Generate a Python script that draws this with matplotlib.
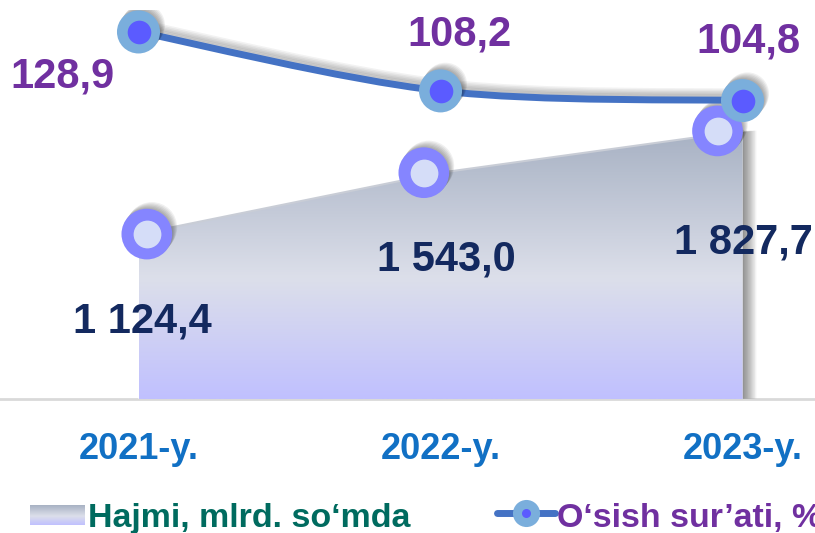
import numpy as np
import matplotlib.pyplot as plt
import matplotlib.patheffects as pe
import matplotlib.transforms as mtransforms
from matplotlib.path import Path
from matplotlib.patches import PathPatch
from matplotlib.lines import Line2D
from matplotlib.colors import LinearSegmentedColormap

plt.rcParams['font.family'] = ['Liberation Sans', 'DejaVu Sans']

# data
years = ['2021-y.', '2022-y.', '2023-y.']
volume = [1124.4, 1543.0, 1827.7]          # Hajmi, mlrd. so'mda
growth = [128.9, 108.2, 104.8]             # O'sish sur'ati, %
volume_labels = ['1 124,4', '1 543,0', '1 827,7']
growth_labels = ['128,9', '108,2', '104,8']

purple = '#7030a0'
navy = '#13295f'
line_blue = '#4472c4'

fig = plt.figure(figsize=(8.15, 5.33), dpi=100)
ax = fig.add_axes([0, 0.2514, 1, 0.7298])
ax.set_xlim(-0.4586, 2.240)
ax.set_ylim(0, 2652)
for s in ax.spines.values():
    s.set_visible(False)
ax.set_yticks([])
x = np.arange(len(years))
ax.set_xticks(x)
ax.set_xticklabels(years, fontsize=26, fontweight='bold', color='#1170c4')
ax.tick_params(axis='x', length=0, pad=24)

ax.axhline(0, color='#d9d9d9', lw=2, zorder=1, clip_on=False)

# area with gradient fill and soft shadow on the right
area_cmap = LinearSegmentedColormap.from_list(
    'area', [(0, '#a7b1c3'), (0.55, '#dcdfea'), (1, '#c0c0ff')])
shadow = [pe.SimplePatchShadow(offset=(d, 0.3), shadow_rgbFace='k', alpha=0.05)
          for d in range(1, 11)]
poly = ax.fill_between(x, 0, volume, facecolor='white', edgecolor='none', zorder=2,
                       path_effects=shadow + [pe.Normal()])
grad = np.linspace(0, 1, 256).reshape(-1, 1)
img = ax.imshow(grad, cmap=area_cmap, aspect='auto', origin='upper',
                extent=[x[0], x[-1], 0, max(volume)], zorder=3)
img.set_clip_path(poly.get_paths()[0], transform=ax.transData)
ax.plot(x, volume, color='#c9cdd6', lw=1.5, zorder=4)
ax.set_xlim(-0.4586, 2.240)
ax.set_ylim(0, 2652)

# area markers (sit a little off the category centres in the original)
marker_dx = [6, -12, -18]
mshadow = [pe.SimplePatchShadow(offset=(0.6 * d, 0.8 * d), shadow_rgbFace='k', alpha=0.06)
           for d in range(1, 7)]
for xi, v, dx in zip(x, volume, marker_dx):
    tr = ax.transData + mtransforms.ScaledTranslation(dx / 72, 0, fig.dpi_scale_trans)
    ax.plot([xi], [v], 'o', ms=36.5, color='#8585ff', mec='none', zorder=5,
            transform=tr, path_effects=mshadow + [pe.Normal()])
    ax.plot([xi], [v], 'o', ms=20, color='#d5ddf8', mec='none', zorder=6, transform=tr)

for xi, v, lab, off in zip(x, volume, volume_labels, [(2.5, -71), (4, -70.5), (1, -88)]):
    ax.annotate(lab, (xi, v), xytext=off, textcoords='offset points', ha='center',
                va='baseline', fontsize=30, fontweight='bold', color=navy, zorder=8)

# growth line on a second axis, smoothed with bezier segments
ax2 = ax.twinx()
ax2.set_ylim(0, 136.6)
ax2.set_axis_off()
pts = np.column_stack([x.astype(float), growth])
ext = np.vstack([pts[0], pts, pts[-1]])
verts = [pts[0]]
codes = [Path.MOVETO]
for i in range(len(pts) - 1):
    p0, p1, p2, p3 = ext[i], ext[i + 1], ext[i + 2], ext[i + 3]
    verts += [p1 + (p2 - p0) / 6, p2 - (p3 - p1) / 6, p2]
    codes += [Path.CURVE4] * 3
lshadow = [pe.SimpleLineShadow(offset=(0.5 * d, d), shadow_color='k', alpha=0.05, linewidth=5)
           for d in range(1, 7)]
ax2.add_patch(PathPatch(Path(verts, codes), fill=False, edgecolor=line_blue, lw=5,
                        capstyle='round', zorder=5, path_effects=lshadow + [pe.Normal()]))
ax2.plot(x, growth, 'o', ms=31, color='#7aaedc', mec='none', zorder=6,
         path_effects=mshadow + [pe.Normal()])
ax2.plot(x, growth, 'o', ms=17, color='#5b5bff', mec='none', zorder=7)

for xi, v, lab, off in zip(x, growth, growth_labels, [(-54.7, -40.3), (13.7, 32.4), (4, 34.6)]):
    ax2.annotate(lab, (xi, v), xytext=off, textcoords='offset points', ha='center',
                 va='baseline', fontsize=30, fontweight='bold', color=purple, zorder=8)

# legend drawn by hand
W, H = 815, 533
lax = fig.add_axes([30 / W, 1 - 525 / H, 55 / W, 20 / H])
lax.imshow(grad, cmap=area_cmap, aspect='auto')
lax.set_axis_off()
fig.text(88 / W, 1 - 527 / H, 'Hajmi, mlrd. so\u2018mda', fontsize=24.5, fontweight='bold',
         color='#006b5f', va='baseline')
ly = 1 - 513 / H
fig.add_artist(Line2D([497 / W, 555 / W], [ly, ly], transform=fig.transFigure,
                      color=line_blue, lw=5, solid_capstyle='round'))
fig.add_artist(Line2D([526 / W], [ly], transform=fig.transFigure, marker='o', ms=19.5,
                      color='#7aaedc', mec='none'))
fig.add_artist(Line2D([526 / W], [ly], transform=fig.transFigure, marker='o', ms=6.5,
                      color='#5b5bff', mec='none'))
fig.text(557 / W, 1 - 527 / H, 'O\u2018sish sur\u2019ati, %', fontsize=24.5, fontweight='bold',
         color=purple, va='baseline')

fig.savefig('out.png', dpi=100)
